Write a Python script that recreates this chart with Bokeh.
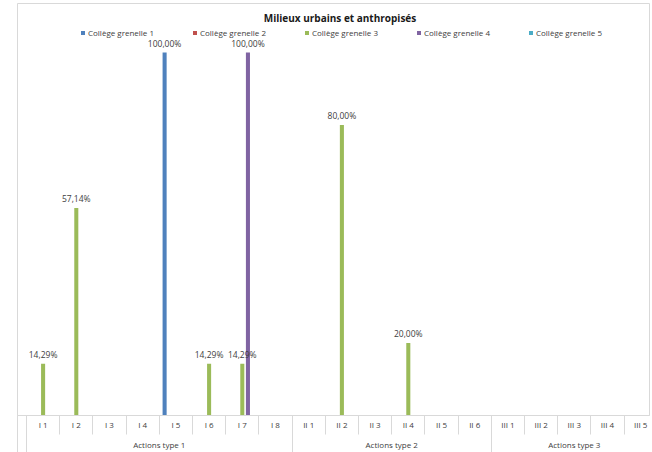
from bokeh.plotting import figure
from bokeh.models import (ColumnDataSource, Range1d, LinearAxis, FixedTicker, Legend,
                          LegendItem, LabelSet, Label)
from bokeh.core.properties import value
from bokeh.transform import dodge
from bokeh.embed import file_html
from bokeh.resources import INLINE

# ---------------- data ----------------
title_text = "Milieux urbains et anthropisés"
categories = ["I 1", "I 2", "I 3", "I 4", "I 5", "I 6", "I 7", "I 8",
              "II 1", "II 2", "II 3", "II 4", "II 5", "II 6",
              "III 1", "III 2", "III 3", "III 4", "III 5"]
groups = ["Actions type 1", "Actions type 2", "Actions type 3"]
group_sizes = [8, 6, 5]

series_names = ["Collège grenelle 1", "Collège grenelle 2", "Collège grenelle 3",
                "Collège grenelle 4", "Collège grenelle 5"]
series_colors = ["#4F81BD", "#C0504D", "#9BBB59", "#8064A2", "#4BACC6"]

college_1 = [0, 0, 0, 0, 100, 0, 0, 0, 0, 0, 0, 0, 0, 0, 0, 0, 0, 0, 0]
college_2 = [0, 0, 0, 0, 0, 0, 0, 0, 0, 0, 0, 0, 0, 0, 0, 0, 0, 0, 0]
college_3 = [14.29, 57.14, 0, 0, 0, 14.29, 14.29, 0, 0, 80, 0, 20, 0, 0, 0, 0, 0, 0, 0]
college_4 = [0, 0, 0, 0, 0, 0, 100, 0, 0, 0, 0, 0, 0, 0, 0, 0, 0, 0, 0]
college_5 = [0, 0, 0, 0, 0, 0, 0, 0, 0, 0, 0, 0, 0, 0, 0, 0, 0, 0, 0]
series_values = [college_1, college_2, college_3, college_4, college_5]

# ---------------- layout helpers ----------------
FONT = "Open Sans"
TXT = "#404040"
GRID = "#d9d9d9"
n = len(categories)
centers = [i + 0.5 for i in range(n)]
bounds = [float(i) for i in range(n + 1)]
step = 0.17
bar_w = 0.122
x_start = -0.271

group_bounds = [0.0]
for s in group_sizes:
    group_bounds.append(group_bounds[-1] + s)
group_centers = [(group_bounds[i] + group_bounds[i + 1]) / 2 for i in range(len(groups))]

p = figure(width=652, height=452,
           x_range=Range1d(x_start, 18.765), y_range=Range1d(0, 113.5),
           x_axis_type=None, y_axis_type=None,
           toolbar_location=None, output_backend="svg",
           min_border_left=17, min_border_right=3, min_border_top=3, min_border_bottom=30)
p.outline_line_color = GRID
p.background_fill_color = "white"
p.border_fill_color = "white"

title = Label(x=322.5, y=398, x_units="screen", y_units="screen", text=title_text,
              text_align="center", text_baseline="middle", text_font=FONT,
              text_font_size="10px", text_font_style="bold", text_color="#1a1a1a")
p.add_layout(title)

data = {"x": centers}
for name, vals in zip(series_names, series_values):
    data[name] = vals
src = ColumnDataSource(data)

items = []
for s, (name, color, vals) in enumerate(zip(series_names, series_colors, series_values)):
    off = (s - 2) * step
    r = p.vbar(x=dodge("x", off, range=p.x_range), top=name, width=bar_w, source=src,
               fill_color=color, line_color=None)
    items.append(LegendItem(label=name, renderers=[r]))
    lx, ly, lt = [], [], []
    for c, v in zip(centers, vals):
        if v:
            lx.append(c + off)
            ly.append(v)
            lt.append(("%.2f" % v).replace(".", ",") + "%")
    if lx:
        ls = LabelSet(x="x", y="y", text="t", source=ColumnDataSource(dict(x=lx, y=ly, t=lt)),
                      text_align="center", text_baseline="bottom", y_offset=4,
                      text_font=value(FONT), text_font_size=value("8.5px"),
                      text_color=value(TXT))
        p.add_layout(ls)

legend = Legend(items=items, orientation="horizontal", location=(63, 377),
                glyph_width=5, glyph_height=5, label_width=94, spacing=10,
                label_standoff=3, padding=0, margin=0,
                border_line_color=None, background_fill_alpha=0,
                label_text_font=FONT, label_text_font_size="8px", label_text_color=TXT)
p.add_layout(legend)

ax1 = LinearAxis(ticker=FixedTicker(ticks=centers, minor_ticks=[x_start] + bounds),
                 major_label_overrides={c: lab for c, lab in zip(centers, categories)},
                 axis_line_color=GRID, major_tick_line_color=None,
                 major_tick_in=0, major_tick_out=0,
                 minor_tick_in=0, minor_tick_out=19, minor_tick_line_color=GRID,
                 major_label_standoff=-16, major_label_text_font=FONT,
                 major_label_text_font_size="8px", major_label_text_color=TXT)
p.add_layout(ax1, "below")

ax2 = LinearAxis(ticker=FixedTicker(ticks=group_centers, minor_ticks=[x_start] + group_bounds),
                 major_label_overrides={c: g for c, g in zip(group_centers, groups)},
                 axis_line_color=None, major_tick_line_color=None,
                 major_tick_in=0, major_tick_out=0,
                 minor_tick_in=0, minor_tick_out=30, minor_tick_line_color=GRID,
                 major_label_standoff=-24, major_label_text_font=FONT,
                 major_label_text_line_height=0.6,
                 major_label_text_font_size="8px", major_label_text_color=TXT)
p.add_layout(ax2, "below")

open("out.html", "w").write(file_html(p, INLINE))
